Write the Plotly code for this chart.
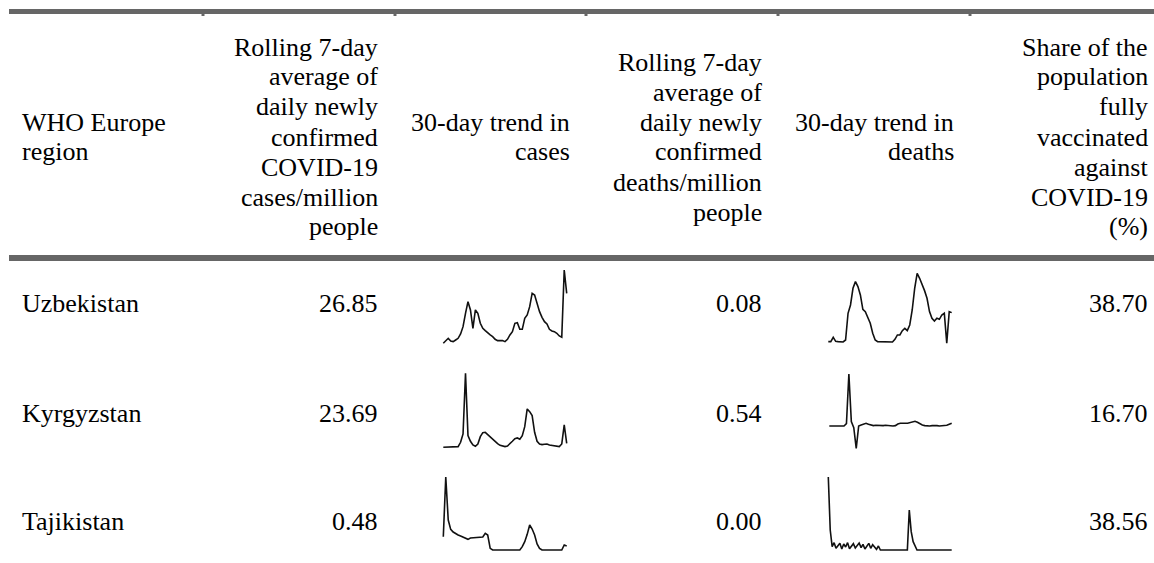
import plotly.graph_objects as go

# ---------------- data ----------------
regions = ["Uzbekistan", "Kyrgyzstan", "Tajikistan"]
cases_per_million = [26.85, 23.69, 0.48]
deaths_per_million = [0.08, 0.54, 0.00]
vaccinated_pct = [38.70, 16.70, 38.56]

header_region = ["WHO Europe", "region"]
header_cases = ["Rolling 7-day", "average of", "daily newly", "confirmed",
                "COVID-19", "cases/million", "people"]
header_cases_trend = ["30-day trend in", "cases"]
header_deaths = ["Rolling 7-day", "average of", "daily newly", "confirmed",
                 "deaths/million", "people"]
header_deaths_trend = ["30-day trend in", "deaths"]
header_vacc = ["Share of the", "population", "fully", "vaccinated",
               "against", "COVID-19", "(%)"]

uzb_cases_trend = [0, 8, 15, 7, 5, 10, 15, 28, 50, 90, 125, 100, 45, 100, 90, 60,
                   45, 38, 30, 25, 20, 12, 8, 8, 8, 5, 12, 25, 35, 60, 62, 42, 42,
                   75, 85, 110, 150, 145, 120, 95, 78, 65, 58, 42, 37, 35, 30, 22,
                   18, 220, 150]
uzb_deaths_trend = [5, 5, 18, 6, 5, 5, 4, 10, 90, 115, 165, 185, 170, 145, 102, 95,
                    80, 60, 30, 10, 5, 5, 5, 4, 4, 4, 4, 12, 25, 25, 38, 45, 38,
                    55, 100, 165, 210, 195, 178, 158, 135, 95, 75, 67, 75, 72, 85,
                    90, 0, 95, 92]
kgz_cases_trend = [0, 0, 0, 0, 0, 0, 2, 15, 40, 222, 35, 18, 7, 3, 10, 32, 44, 45,
                   38, 30, 22, 17, 11, 6, 4, 2, 4, 10, 18, 26, 28, 24, 35, 62, 115,
                   107, 95, 45, 18, 10, 8, 9, 10, 7, 6, 4, 2, 2, 10, 67, 12]
kgz_deaths_trend = [67, 67, 67, 67, 67, 67, 67, 74, 223, 80, 62, 0, 67, 70, 73, 75,
                    72, 69, 68, 69, 68, 69, 68, 69, 68, 68, 67, 68, 73, 75, 74, 75,
                    75, 77, 80, 81, 78, 73, 70, 68, 67, 67, 68, 69, 68, 67, 67, 68,
                    69, 72, 75]
tjk_cases_trend = [40, 219, 90, 62, 54, 49, 45, 42, 38, 34, 32, 36, 37, 38, 38, 38,
                   39, 50, 45, 5, 0, 0, 0, 0, 0, 0, 0, 0, 0, 0, 0, 0, 10, 25, 47,
                   75, 63, 45, 18, 5, 0, 0, 0, 0, 0, 0, 0, 0, 0, 15, 12]
tjk_deaths_trend = [219, 60, 10, 22, 5, 14, 20, 3, 18, 9, 22, 4, 12, 19, 6, 15,
                    21, 7, 17, 3, 13, 20, 5, 16, 9, 2, 12, 0, 0, 0, 0, 0, 0, 0,
                    0, 0, 0, 0, 0, 0, 0, 0, 120, 55, 25, 10, 0, 0, 0, 0, 0, 0,
                    0, 0, 0, 0, 0, 0, 0, 0, 0, 0, 0, 0, 0]

cases_trends = [uzb_cases_trend, kgz_cases_trend, tjk_cases_trend]
deaths_trends = [uzb_deaths_trend, kgz_deaths_trend, tjk_deaths_trend]

# ---------------- layout constants ----------------
W, H = 1154, 563
FONT = "Liberation Serif, Times New Roman, serif"
FS = 26
TXT = "#000000"
RULE = "#666666"

def fx(x):
    return x / W

def fy(y):
    return 1 - y / H

header_center = 137
line_gap = 30
row_centers = [303, 413, 521]
col_right = [None, 380, 572, 764, 956, 1150]
col_left0 = 20

# sparkline pixel boxes (left, top, right, bottom) per row
cases_boxes = [(443.3, 270.0, 566.7, 343.3),
               (443.3, 373.3, 566.7, 447.3),
               (443.3, 477.0, 566.7, 550.0)]
deaths_boxes = [(828.3, 273.3, 951.7, 343.3),
                (829.3, 374.0, 951.7, 448.3),
                (828.3, 477.0, 951.7, 550.0)]

fig = go.Figure()
layout_axes = {}
annotations = []
shapes = []

def add_spark(idx, vals, box):
    left, top, right, bottom = box
    pad = 3
    n = len(vals)
    vmin, vmax = min(vals), max(vals)
    sx = (right - left) / (n - 1)
    sy = (bottom - top) / (vmax - vmin)
    xname = "x" if idx == 1 else f"x{idx}"
    yname = "y" if idx == 1 else f"y{idx}"
    fig.add_trace(go.Scatter(
        x=list(range(n)), y=vals, mode="lines",
        line=dict(color="#111111", width=1.6),
        xaxis=xname, yaxis=yname, showlegend=False, hoverinfo="skip"))
    kx = "xaxis" if idx == 1 else f"xaxis{idx}"
    ky = "yaxis" if idx == 1 else f"yaxis{idx}"
    layout_axes[kx] = dict(domain=[(left - pad) / W, (right + pad) / W],
                           range=[-pad / sx, n - 1 + pad / sx],
                           visible=False, anchor=yname, fixedrange=True)
    layout_axes[ky] = dict(domain=[1 - (bottom + pad) / H, 1 - (top - pad) / H],
                           range=[vmin - pad / sy, vmax + pad / sy],
                           visible=False, anchor=xname, fixedrange=True)

k = 1
for r in range(3):
    add_spark(k, cases_trends[r], cases_boxes[r]); k += 1
    add_spark(k, deaths_trends[r], deaths_boxes[r]); k += 1

def add_text(text, x, y, anchor):
    annotations.append(dict(
        text=text, x=fx(x), y=fy(y), xref="paper", yref="paper",
        xanchor=anchor, yanchor="middle", showarrow=False,
        font=dict(family=FONT, size=FS, color=TXT)))

def add_header(lines, x, anchor):
    n = len(lines)
    for i, t in enumerate(lines):
        y = header_center + (i - (n - 1) / 2) * line_gap
        add_text(t, x, y, anchor)

add_header(header_region, col_left0, "left")
add_header(header_cases, col_right[1], "right")
add_header(header_cases_trend, col_right[2], "right")
add_header(header_deaths, col_right[3], "right")
add_header(header_deaths_trend, col_right[4], "right")
add_header(header_vacc, col_right[5], "right")

for r in range(3):
    yc = row_centers[r]
    add_text(regions[r], col_left0, yc, "left")
    add_text(f"{cases_per_million[r]:.2f}", col_right[1], yc, "right")
    add_text(f"{deaths_per_million[r]:.2f}", col_right[3], yc, "right")
    add_text(f"{vaccinated_pct[r]:.2f}", col_right[5], yc, "right")

# rules
def rect(x0, y0, x1, y1):
    shapes.append(dict(type="rect", xref="paper", yref="paper",
                       x0=fx(x0), x1=fx(x1), y0=fy(y1), y1=fy(y0),
                       fillcolor=RULE, line=dict(width=0), layer="below"))

rect(9, 9, 1154, 14)
rect(9, 255, 1154, 261)
for bx in [203, 395, 586, 778, 970]:
    rect(bx - 1.5, 14, bx + 1.5, 16)

fig.update_layout(
    width=W, height=H,
    margin=dict(l=0, r=0, t=0, b=0),
    paper_bgcolor="white", plot_bgcolor="white",
    annotations=annotations, shapes=shapes,
    **layout_axes)

fig.write_html(
    "out.html",
    config={"displayModeBar": False},
    post_script="document.body.style.margin='0';document.body.style.overflow='hidden';")
